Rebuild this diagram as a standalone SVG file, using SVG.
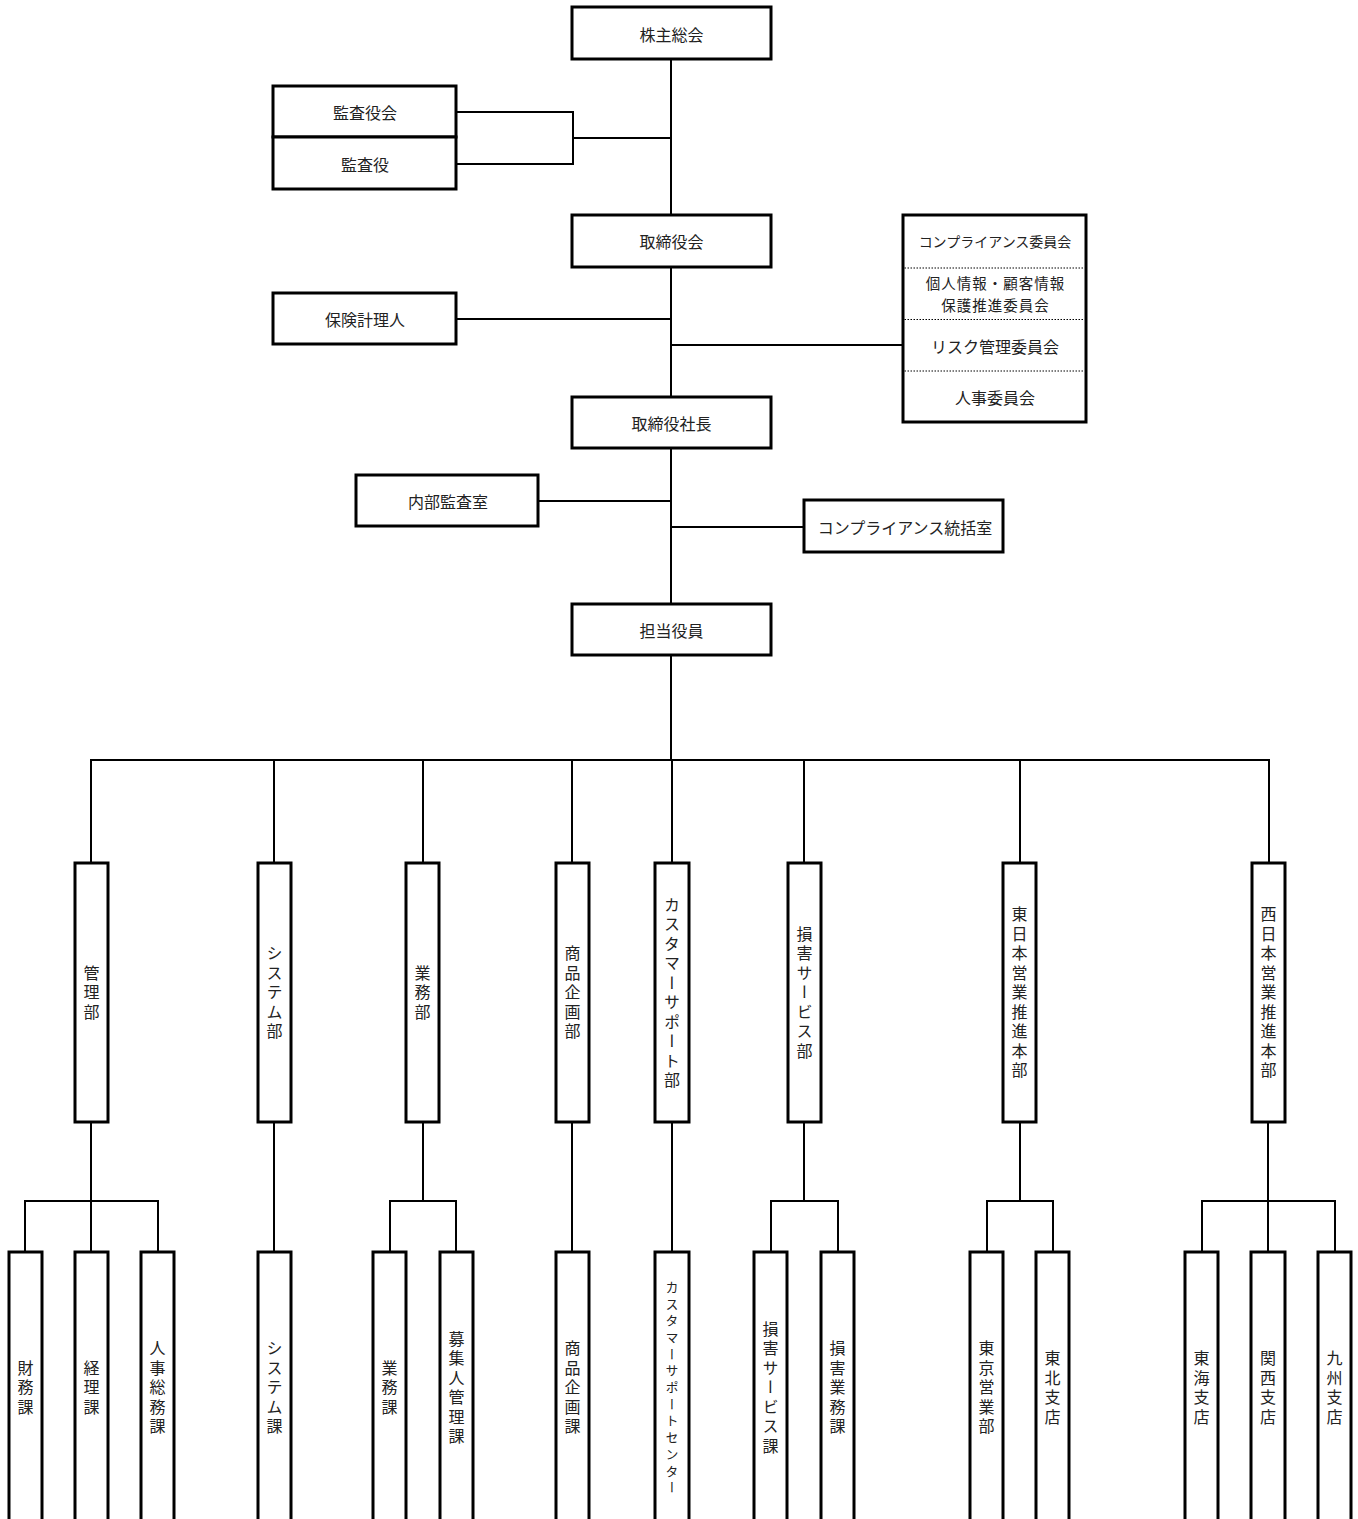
<svg xmlns="http://www.w3.org/2000/svg" width="1358" height="1519" viewBox="0 0 1358 1519">
<style>
.box{fill:#fff;stroke:#000;stroke-width:3}
.ln{stroke:#000;stroke-width:2;fill:none}
.dot{stroke:#000;stroke-width:1;stroke-dasharray:1.5 1.5;fill:none}
.t{font-family:"Noto Sans CJK JP","Noto Sans CJK SC",sans-serif;font-size:16px;fill:#222;text-anchor:middle;dominant-baseline:central}
.s{font-size:14px}
.m{font-size:14.5px;letter-spacing:1px}
.v{writing-mode:vertical-rl;text-orientation:upright;letter-spacing:3.5px}
.vs{font-size:13px;letter-spacing:3.7px}
</style>
<rect width="1358" height="1519" fill="#fff"/>
<g id="connectors">
<path class="ln" d="M671 59V760"/>
<path class="ln" d="M456 112H573V164H456M573 138H671"/>
<path class="ln" d="M456 319H671"/>
<path class="ln" d="M671 345H903"/>
<path class="ln" d="M538 501H671"/>
<path class="ln" d="M671 527H804"/>
<path class="ln" d="M91 863V760H1269V863"/>
<path class="ln" d="M274 760V863M423 760V863M572 760V863M672 760V863M804 760V863M1020 760V863"/>
<path class="ln" d="M91 1122V1252M25 1252V1201H158V1252"/>
<path class="ln" d="M274 1122V1252"/>
<path class="ln" d="M423 1122V1201M390 1252V1201H456V1252"/>
<path class="ln" d="M572 1122V1252"/>
<path class="ln" d="M672 1122V1252"/>
<path class="ln" d="M804 1122V1201M771 1252V1201H838V1252"/>
<path class="ln" d="M1020 1122V1201M987 1252V1201H1053V1252"/>
<path class="ln" d="M1268 1122V1252M1202 1252V1201H1335V1252"/>
</g>
<g id="n-kabunushi"><rect class="box" x="572" y="7" width="199" height="52"/><text class="t" x="671.5" y="34">株主総会</text></g>
<g id="n-kansayakukai"><rect class="box" x="273" y="86" width="183" height="51"/><text class="t" x="365" y="112">監査役会</text></g>
<g id="n-kansayaku"><rect class="box" x="273" y="137" width="183" height="52"/><text class="t" x="365" y="164">監査役</text></g>
<g id="n-torishimariyakukai"><rect class="box" x="572" y="215" width="199" height="52"/><text class="t" x="671.5" y="241">取締役会</text></g>
<g id="n-hokenkeirinin"><rect class="box" x="273" y="293" width="183" height="51"/><text class="t" x="365" y="319">保険計理人</text></g>
<g id="n-iinkai">
<rect class="box" x="903" y="215" width="183" height="207"/>
<path class="dot" d="M904.5 268H1084.5M904.5 319.5H1084.5M904.5 371H1084.5"/>
<text class="t s" x="995" y="241">コンプライアンス委員会</text>
<text class="t m" x="995.5" y="282.5">個人情報・顧客情報</text>
<text class="t m" x="995.5" y="304">保護推進委員会</text>
<text class="t" x="995" y="346">リスク管理委員会</text>
<text class="t" x="995" y="397">人事委員会</text>
</g>
<g id="n-shacho"><rect class="box" x="572" y="397" width="199" height="51"/><text class="t" x="671.5" y="423">取締役社長</text></g>
<g id="n-naibukansa"><rect class="box" x="356" y="475" width="182" height="51"/><text class="t" x="448" y="501">内部監査室</text></g>
<g id="n-compliance"><rect class="box" x="804" y="500" width="199" height="52"/><text class="t" x="905" y="527">コンプライアンス統括室</text></g>
<g id="n-tanto"><rect class="box" x="572" y="604" width="199" height="51"/><text class="t" x="671.5" y="630">担当役員</text></g>
<g id="d-kanri"><rect class="box" x="75" y="863" width="33" height="259"/><text class="t v" x="91.5" y="994">管理部</text></g>
<g id="d-system"><rect class="box" x="258" y="863" width="33" height="259"/><text class="t v" x="274.5" y="994">システム部</text></g>
<g id="d-gyomu"><rect class="box" x="406" y="863" width="33" height="259"/><text class="t v" x="422.5" y="994">業務部</text></g>
<g id="d-shohin"><rect class="box" x="556" y="863" width="33" height="259"/><text class="t v" x="572.5" y="994">商品企画部</text></g>
<g id="d-customer"><rect class="box" x="655" y="863" width="34" height="259"/><text class="t v" x="672" y="994">カスタマーサポート部</text></g>
<g id="d-songai"><rect class="box" x="788" y="863" width="33" height="259"/><text class="t v" x="804.5" y="994">損害サービス部</text></g>
<g id="d-higashi"><rect class="box" x="1003" y="863" width="33" height="259"/><text class="t v" x="1019.5" y="994">東日本営業推進本部</text></g>
<g id="d-nishi"><rect class="box" x="1252" y="863" width="33" height="259"/><text class="t v" x="1268.5" y="994">西日本営業推進本部</text></g>
<g id="k-zaimu"><rect class="box" x="9" y="1252" width="33" height="290"/><text class="t v" x="25.5" y="1389">財務課</text></g>
<g id="k-keiri"><rect class="box" x="75" y="1252" width="33" height="290"/><text class="t v" x="91.5" y="1389">経理課</text></g>
<g id="k-jinji"><rect class="box" x="141" y="1252" width="33" height="290"/><text class="t v" x="157.5" y="1389">人事総務課</text></g>
<g id="k-system"><rect class="box" x="258" y="1252" width="33" height="290"/><text class="t v" x="274.5" y="1389">システム課</text></g>
<g id="k-gyomu"><rect class="box" x="373" y="1252" width="33" height="290"/><text class="t v" x="389.5" y="1389">業務課</text></g>
<g id="k-boshu"><rect class="box" x="440" y="1252" width="33" height="290"/><text class="t v" x="456.5" y="1389">募集人管理課</text></g>
<g id="k-shohin"><rect class="box" x="556" y="1252" width="33" height="290"/><text class="t v" x="572.5" y="1389">商品企画課</text></g>
<g id="k-center"><rect class="box" x="655" y="1252" width="34" height="290"/><text class="t v vs" x="672" y="1389">カスタマーサポートセンター</text></g>
<g id="k-songaiservice"><rect class="box" x="754" y="1252" width="33" height="290"/><text class="t v" x="770.5" y="1389">損害サービス課</text></g>
<g id="k-songaigyomu"><rect class="box" x="821" y="1252" width="33" height="290"/><text class="t v" x="837.5" y="1389">損害業務課</text></g>
<g id="k-tokyo"><rect class="box" x="970" y="1252" width="33" height="290"/><text class="t v" x="986.5" y="1389">東京営業部</text></g>
<g id="k-tohoku"><rect class="box" x="1036" y="1252" width="33" height="290"/><text class="t v" x="1052.5" y="1389">東北支店</text></g>
<g id="k-tokai"><rect class="box" x="1185" y="1252" width="33" height="290"/><text class="t v" x="1201.5" y="1389">東海支店</text></g>
<g id="k-kansai"><rect class="box" x="1251" y="1252" width="34" height="290"/><text class="t v" x="1268" y="1389">関西支店</text></g>
<g id="k-kyushu"><rect class="box" x="1318" y="1252" width="33" height="290"/><text class="t v" x="1334.5" y="1389">九州支店</text></g>
</svg>
